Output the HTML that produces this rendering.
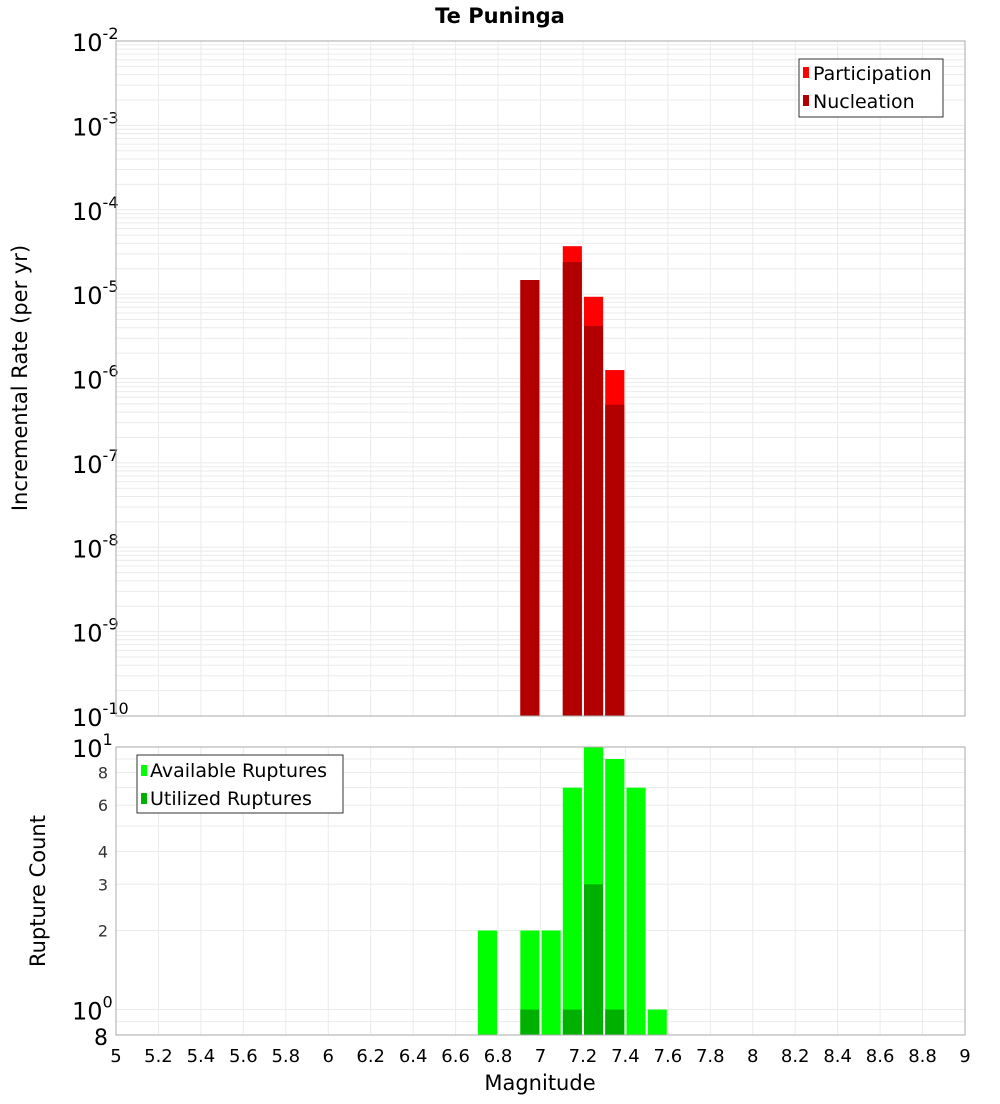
<!DOCTYPE html>
<html><head><meta charset="utf-8"><style>
body{margin:0;background:#fff;font-family:"DejaVu Sans","Liberation Sans",sans-serif;}
svg text{font-family:"DejaVu Sans","Liberation Sans",sans-serif;}
</style></head><body>
<svg id="chart" width="1000" height="1100" xmlns="http://www.w3.org/2000/svg">
<text x="500" y="23" text-anchor="middle" font-size="21" font-weight="bold">Te Puninga</text>
<g id="topg"></g>
<g id="botg"></g>
<text transform="translate(27,378) rotate(-90)" text-anchor="middle" font-size="21">Incremental Rate (per yr)</text>
<text transform="translate(45,891) rotate(-90)" text-anchor="middle" font-size="21">Rupture Count</text>
<text x="540" y="1090" text-anchor="middle" font-size="21">Magnitude</text>
<g id="legends">
<g>
<rect x="799" y="59" width="144" height="58" fill="#fff" stroke="#333"/>
<rect x="803" y="67" width="6" height="11" fill="#ff0000"/>
<text x="813" y="80" font-size="19">Participation</text>
<rect x="803" y="95" width="6" height="11" fill="#b20000"/>
<text x="813" y="108" font-size="19">Nucleation</text>
</g>
<g>
<rect x="137" y="755" width="206" height="58" fill="#fff" stroke="#333"/>
<rect x="141" y="765" width="6" height="11" fill="#00ff00"/>
<text x="150" y="777" font-size="19">Available Ruptures</text>
<rect x="141" y="793" width="6" height="11" fill="#00b000"/>
<text x="150" y="805" font-size="19">Utilized Ruptures</text>
</g>
</g>
</svg>
<script>
const mags = [6.95, 7.15, 7.25, 7.35];
const participation = [1.47e-5, 3.7e-5, 9.3e-6, 1.26e-6];
const nucleation = [1.47e-5, 2.4e-5, 4.2e-6, 4.9e-7];
const countMags = [6.75, 6.95, 7.05, 7.15, 7.25, 7.35, 7.45, 7.55];
const available = [2, 2, 2, 7, 10, 9, 7, 1];
const utilMags = [6.95, 7.15, 7.25, 7.35];
const utilized = [1, 1, 3, 1];
const xTicks = [5,5.2,5.4,5.6,5.8,6,6.2,6.4,6.6,6.8,7,7.2,7.4,7.6,7.8,8,8.2,8.4,8.6,8.8,9];
const rateExps = [-2,-3,-4,-5,-6,-7,-8,-9,-10];
const countTicks = [8,6,4,3,2];

const NS="http://www.w3.org/2000/svg";
const X0=116,X1=965;
const xs=m=>X0+(m-5)/4*(X1-X0);
const T0=41,T1=716;
const yR=v=>T0+(-2-Math.log10(v))/8*(T1-T0);
const B0=747,B1=1035;
const yC=v=>B0+(1-Math.log10(v))/(1-Math.log10(0.8))*(B1-B0);
function mk(tag,a,parent,txt){const e=document.createElementNS(NS,tag);for(const k in a)e.setAttribute(k,a[k]);if(txt!==undefined)e.textContent=txt;parent.appendChild(e);return e;}
const topG=document.getElementById('topg'),botG=document.getElementById('botg');
xTicks.forEach(t=>{
 let l=mk('line',{x1:xs(t),x2:xs(t),y1:T0,y2:T1,stroke:'#ebebeb'},topG);
 
 
 let l2=mk('line',{x1:xs(t),x2:xs(t),y1:B0,y2:B1,stroke:'#ebebeb'},botG);
 
 
 let tx=mk('text',{x:xs(t),y:1062,'text-anchor':'middle','font-size':18},botG,String(t));
 
 
});
for(let e=-10;e<-2;e++){for(let k=1;k<10;k++){const v=k*Math.pow(10,e);
 let l=mk('line',{x1:X0,x2:X1,y1:yR(v),y2:yR(v),stroke:'#ebebeb'},topG);
 
 }}
[0.8,0.9,1,2,3,4,5,6,7,8,9,10].forEach(v=>{
 let l=mk('line',{x1:X0,x2:X1,y1:yC(v),y2:yC(v),stroke:'#ebebeb'},botG);
 
 });
rateExps.forEach(e=>{const y=yR(Math.pow(10,e));
 let t=mk('text',{x:72,y:y+10,'font-size':24},topG,'10');
 
 
 mk('tspan',{dy:-12,'font-size':16},t,String(e));});
const bw=(X1-X0)/4*0.09;
mags.forEach((m,i)=>{
 let r=mk('rect',{x:xs(m)-bw/2,y:yR(participation[i]),width:bw,height:T1-yR(participation[i]),fill:'#ff0000'},topG);
 
 
 let r2=mk('rect',{x:xs(m)-bw/2,y:yR(nucleation[i]),width:bw,height:T1-yR(nucleation[i]),fill:'#b20000'},topG);
 
 
});
countMags.forEach((m,i)=>{
 let r=mk('rect',{x:xs(m)-bw/2,y:yC(available[i]),width:bw,height:B1-yC(available[i]),fill:'#00ff00'},botG);
 
 
});
utilMags.forEach((m,i)=>{
 let r=mk('rect',{x:xs(m)-bw/2,y:yC(utilized[i]),width:bw,height:B1-yC(utilized[i]),fill:'#00b000'},botG);
 
 
});
countTicks.forEach(v=>{
 let t=mk('text',{x:108,y:yC(v)+6,'text-anchor':'end','font-size':16,fill:'#333'},botG,String(v));
 
 });
let t1=mk('text',{x:72,y:yC(10)+10,'font-size':24},botG,'10');mk('tspan',{dy:-12,'font-size':16},t1,'1');


let t0=mk('text',{x:72,y:yC(1)+10,'font-size':24},botG,'10');mk('tspan',{dy:-12,'font-size':16},t0,'0');


let t8=mk('text',{x:108,y:B1+10,'text-anchor':'end','font-size':22},botG,'8');


let f1=mk('rect',{x:X0,y:T0,width:X1-X0,height:T1-T0,fill:'none',stroke:'#aaa'},topG);


let f2=mk('rect',{x:X0,y:B0,width:X1-X0,height:B1-B0,fill:'none',stroke:'#aaa'},botG);


const svg=document.getElementById('chart');
svg.appendChild(document.getElementById('legends'));
</script>
</body></html>
